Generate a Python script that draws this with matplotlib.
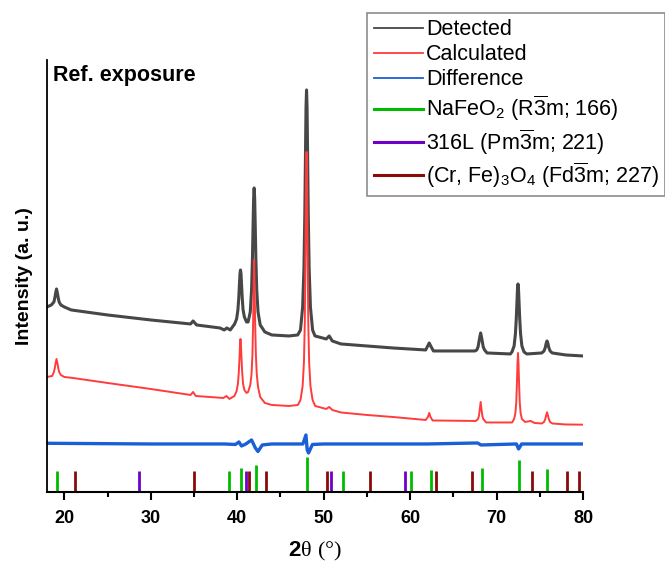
import matplotlib
import numpy as np

matplotlib.use("Agg")
import matplotlib.pyplot as plt
from matplotlib.lines import Line2D


# Detected pattern (2theta, intensity in a.u.)
DET_X = [18.0, 18.5, 18.8, 18.9, 19.0, 19.1, 19.2, 19.3, 19.4, 19.6, 20.0, 20.8,
         25.0, 30.0, 34.6, 34.9, 35.3, 38.0, 38.5, 38.8, 39.2, 39.7, 39.93, 40.08,
         40.18, 40.26, 40.32, 40.38, 40.44, 40.5, 40.58, 40.68, 40.83, 41.08, 41.26, 41.51,
         41.66, 41.76, 41.84, 41.9, 41.96, 42.02, 42.08, 42.16, 42.26, 42.41, 42.66, 43.2,
         44.0, 46.0, 47.0, 47.32, 47.57, 47.72, 47.82, 47.9, 47.96, 48.02, 48.08, 48.14,
         48.22, 48.32, 48.47, 48.72, 49.0, 50.3, 50.64, 51.0, 52.0, 55.0, 58.0, 61.8,
         62.01, 62.21, 62.41, 62.7, 67.5, 67.71, 67.86, 67.96, 68.04, 68.16, 68.28, 68.36,
         68.46, 68.61, 68.9, 71.6, 71.78, 72.03, 72.18, 72.28, 72.36, 72.42, 72.48, 72.54,
         72.6, 72.68, 72.78, 72.93, 73.18, 73.5, 75.24, 75.49, 75.64, 75.72, 75.84, 75.96,
         76.04, 76.19, 76.44, 78.0, 80.0]
DET_Y = [185, 187, 190, 194, 199, 203, 199, 194, 190, 187, 185, 182,
         177, 172, 168, 171, 167, 164, 162, 164, 162, 168, 173, 182,
         194, 208, 218, 222, 218, 208, 194, 182, 175, 170, 170, 180,
         202, 233, 269, 294, 304, 294, 269, 233, 202, 180, 167, 160,
         157, 156, 157, 162, 185, 224, 278, 340, 385, 402, 385, 340,
         278, 224, 185, 162, 156, 153, 156, 151, 148, 146, 144, 142,
         145.5, 149, 145.5, 141, 141, 142, 145, 150, 154, 159, 154, 150,
         145, 142, 139, 138, 140, 146, 158, 173, 190, 203, 208, 203,
         190, 173, 158, 146, 140, 138, 139, 141, 144.5, 148, 151, 148,
         144.5, 141, 139, 137, 136]

# Calculated pattern
CALC_X = [18.0, 18.6, 18.8, 18.9, 18.98, 19.1, 19.22, 19.3, 19.4, 19.6, 20.0, 21.0,
          25.0, 30.0, 34.6, 34.9, 35.2, 38.4, 38.76, 39.1, 39.68, 39.93, 40.08, 40.18,
          40.26, 40.32, 40.38, 40.44, 40.5, 40.58, 40.68, 40.83, 41.08, 41.26, 41.51, 41.66,
          41.76, 41.84, 41.9, 41.96, 42.02, 42.08, 42.16, 42.26, 42.41, 42.66, 43.2, 44.0,
          46.0, 47.02, 47.32, 47.57, 47.72, 47.82, 47.9, 47.96, 48.02, 48.08, 48.14, 48.22,
          48.32, 48.47, 48.72, 49.02, 50.3, 50.64, 51.0, 52.0, 55.0, 58.0, 61.8, 62.06,
          62.21, 62.36, 62.6, 67.6, 67.86, 67.96, 68.04, 68.16, 68.28, 68.36, 68.46, 68.8,
          71.8, 72.03, 72.18, 72.28, 72.36, 72.42, 72.48, 72.54, 72.6, 72.68, 72.78, 72.93,
          73.3, 73.95, 74.4, 75.24, 75.49, 75.64, 75.72, 75.84, 75.96, 76.04, 76.19, 76.44,
          78.0, 80.0]
CALC_Y = [115, 116, 120, 124, 128, 133, 128, 124, 120, 117, 115, 114,
          109, 103, 97, 100, 96, 94, 96, 93, 96, 101, 108, 119,
          133, 146, 153, 146, 133, 119, 108, 102, 99, 100, 107, 118,
          137, 168, 203, 232, 203, 168, 137, 118, 105, 95, 89, 87,
          86, 87, 92, 106, 130, 170, 240, 310, 340, 310, 240, 170,
          130, 106, 92, 86, 83, 85, 82, 79.5, 77, 75, 72, 75,
          79, 75, 71.5, 71, 73, 76, 81, 90, 81, 76, 73, 69.5,
          69.5, 73, 79, 90, 110, 128, 139, 128, 110, 90, 79, 73,
          70, 71, 69, 68.5, 70, 73, 76, 79.7, 76, 73, 70, 68.5,
          67.5, 67.3]

# Difference curve
DIFF_X = [18.0, 30.0, 38.5, 39.8, 40.2, 40.5, 41.0, 41.66, 42.1, 42.4, 42.9, 44.0,
          47.6, 47.95, 48.1, 48.25, 48.7, 50.0, 62.0, 67.8, 68.2, 72.3, 72.55, 72.9, 80.0]
DIFF_Y = [48.7, 48, 48, 47.5, 50, 46, 48, 52, 44, 40.5, 47, 48,
          48, 57, 42, 39, 47.5, 48, 48, 49, 47, 48, 43, 48, 48]

# Reference reflection positions
NAFEO2_POS = [19.2, 39.0, 40.45, 42.12, 48.1, 52.26, 60.09, 62.37, 68.31, 72.59, 75.87]
NAFEO2_H = [21, 21, 24, 27, 35, 21, 21, 22, 24, 32, 23]
SS316_POS = [28.65, 40.96, 50.8, 59.37]
SPINEL_POS = [21.29, 35.01, 41.38, 43.31, 50.41, 55.35, 62.95, 67.19, 74.1, 78.15, 79.5]

LABELS = [
    "Detected",
    "Calculated",
    "Difference",
    r"NaFeO$_2$ (R$\overline{3}$m; 166)",
    r"316L (Pm$\overline{3}$m; 221)",
    r"(Cr, Fe)$_3$O$_4$ (Fd$\overline{3}$m; 227)",
]
COLORS = ["#474747", "#ff3c3c", "#1a5fd6", "#00bb00", "#6f00c8", "#8b0a0a"]


def main() -> None:
    plt.rcParams.update(
        {
            "font.family": ["Liberation Sans", "DejaVu Sans"],
            "mathtext.fontset": "custom",
            "mathtext.rm": "Liberation Sans",
            "mathtext.it": "Liberation Sans:italic",
            "mathtext.bf": "Liberation Sans:bold",
            "mathtext.sf": "Liberation Serif",
        }
    )
    fig = plt.figure(figsize=(6.65, 5.64), dpi=100)
    ax = fig.add_axes([0.0707, 0.1277, 0.806, 0.766])

    ax.plot(DET_X, DET_Y, color=COLORS[0], linewidth=2.2)
    ax.plot(CALC_X, CALC_Y, color=COLORS[1], linewidth=1.4)
    ax.plot(DIFF_X, DIFF_Y, color=COLORS[2], linewidth=2.4)

    ax.vlines(NAFEO2_POS, 0, NAFEO2_H, color=COLORS[3], linewidth=2)
    ax.vlines(SS316_POS, 0, 21, color=COLORS[4], linewidth=2)
    ax.vlines(SPINEL_POS, 0, 21, color=COLORS[5], linewidth=2)

    ax.set_xlim(18, 80)
    ax.set_ylim(0, 432)
    ax.set_xticks(np.arange(20, 81, 10))
    ax.set_xticks(np.arange(25, 80, 10), minor=True)
    ax.set_yticks([])
    for lab in ax.get_xticklabels():
        lab.set_fontweight("bold")
    ax.tick_params(axis="x", which="major", direction="out", length=6, width=1.5,
                   labelsize=13, pad=7)
    ax.tick_params(axis="x", which="minor", direction="out", length=3.5, width=1.5)
    ax.spines["top"].set_visible(False)
    ax.spines["right"].set_visible(False)
    ax.spines["left"].set_linewidth(1.3)
    ax.spines["bottom"].set_linewidth(1.5)

    ax.set_ylabel("Intensity (a. u.)", fontsize=14, fontweight="bold", labelpad=10)
    ax.set_xlabel(r"$\mathbf{2}\mathsf{\theta\ (°)}$", fontsize=16, labelpad=9)
    ax.text(0.012, 0.965, "Ref. exposure", transform=ax.transAxes, fontsize=15.5,
            fontweight="bold", ha="left", va="center")

    widths = [1.3, 1.3, 1.3, 2.2, 2.2, 2.2]
    handles = [Line2D([], [], color=c, linewidth=w) for c, w in zip(COLORS, widths)]
    leg = fig.legend(handles, LABELS, loc="upper right", bbox_to_anchor=(1.0, 0.977),
                     fontsize=15.5, fancybox=False, edgecolor="#8c8c8c",
                     handlelength=2.3, handletextpad=0.12, labelspacing=0.18,
                     borderpad=0.3, borderaxespad=0, framealpha=1)
    leg.get_frame().set_linewidth(1.2)

    fig.savefig("out.png", dpi=100)
    plt.close(fig)


if __name__ == "__main__":
    main()
